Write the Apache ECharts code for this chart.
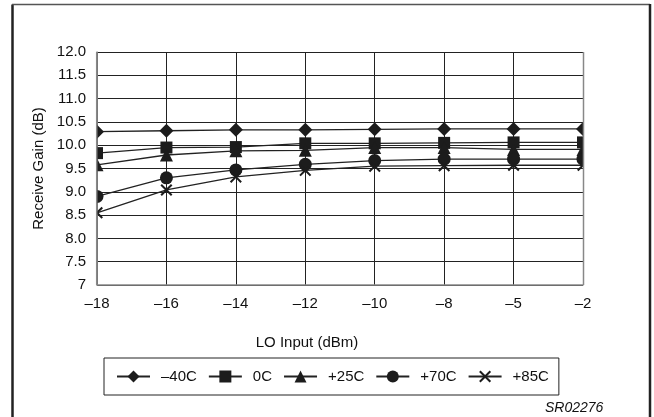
<!DOCTYPE html>
<html>
<head>
<meta charset="utf-8">
<script src="https://cdn.jsdelivr.net/npm/echarts@6/dist/echarts.min.js"></script>
<style>
  html, body { margin: 0; padding: 0; background: #fff; }
</style>
</head>
<body>
<div id="chart" style="width: 654px; height: 417px"></div>
<script>
// LO input levels (dBm), shown as evenly spaced categories
var loInput = ["\u201318", "\u201316", "\u201314", "\u201312", "\u201310", "\u20138", "\u20135", "\u20132"];

// receive gain (dB) per temperature
var gainM40 = [10.29, 10.31, 10.33, 10.33, 10.34, 10.35, 10.35, 10.35];
var gain0 = [9.83, 9.95, 9.96, 10.04, 10.04, 10.05, 10.06, 10.06];
var gain25 = [9.58, 9.79, 9.88, 9.89, 9.95, 9.95, 9.91, 9.91];
var gain70 = [8.9, 9.3, 9.47, 9.59, 9.67, 9.7, 9.7, 9.7];
var gain85 = [8.55, 9.04, 9.32, 9.46, 9.55, 9.56, 9.57, 9.57];

var seriesNames = ["\u201340C", "0C", "+25C", "+70C", "+85C"];

var xMark = "path://M0,1.2 L1.2,0 L5,3.8 L8.8,0 L10,1.2 L6.2,5 L10,8.8 L8.8,10 L5,6.2 L1.2,10 L0,8.8 L3.8,5 Z";

var chartDom = document.getElementById("chart");
var mychart = echarts.init(chartDom);

function makeSeries(name, data, symbol, size) {
  return {
    name: name,
    type: "line",
    data: data,
    symbol: symbol,
    symbolSize: size,
    color: "#1c1c1c",
    lineStyle: { color: "#222", width: 1.3 },
    itemStyle: { color: "#1c1c1c" },
    z: 3
  };
}

var font = "Liberation Sans, Arial, sans-serif";

var option = {
  animation: false,
  backgroundColor: "#fff",
  textStyle: { fontFamily: font },
  grid: { left: 97, right: 71, top: 52, bottom: 132 },
  xAxis: {
    type: "category",
    data: loInput,
    boundaryGap: false,
    axisLine: { lineStyle: { color: "#888", width: 1.5 } },
    axisTick: { show: false },
    axisLabel: { color: "#111", fontSize: 15, margin: 11, fontFamily: font },
    splitLine: { show: true, lineStyle: { color: "#222", width: 1 } },
    name: "LO Input (dBm)",
    nameLocation: "middle",
    nameGap: 50,
    nameTextStyle: { color: "#111", fontSize: 15, fontFamily: font, padding: [0, 66, 0, 0] }
  },
  yAxis: {
    type: "value",
    min: 7,
    max: 12,
    interval: 0.5,
    axisLine: { show: true, lineStyle: { color: "#888", width: 1.5 } },
    axisTick: { show: false },
    axisLabel: {
      color: "#111",
      fontSize: 15,
      margin: 11,
      fontFamily: font,
      formatter: function (v) {
        return v === 7 ? "7" : v.toFixed(1);
      }
    },
    splitLine: { show: true, lineStyle: { color: "#222", width: 1 } },
    name: "Receive Gain (dB)",
    nameLocation: "middle",
    nameGap: 50,
    nameTextStyle: { color: "#111", fontSize: 15, fontFamily: font }
  },
  legend: {
    data: seriesNames,
    left: 104,
    top: 358,
    width: 456,
    padding: [11, 10, 11, 12],
    itemWidth: 33,
    itemHeight: 15,
    itemGap: 11,
    borderColor: "#222",
    borderWidth: 1,
    textStyle: { color: "#111", fontSize: 15, fontFamily: font, padding: [0, 0, 0, 6] }
  },
  graphic: [
    // masks so end markers are cut at the plot edges
    { type: "rect", shape: { x: 88, y: 45, width: 8.2, height: 245 }, style: { fill: "#fff" }, z: 10 },
    { type: "rect", shape: { x: 584, y: 45, width: 12, height: 245 }, style: { fill: "#fff" }, z: 10 },
    { type: "line", shape: { x1: 583.5, y1: 52, x2: 583.5, y2: 285 }, style: { stroke: "#888", lineWidth: 1.5 }, z: 11 },
    { type: "line", shape: { x1: 96.7, y1: 52, x2: 96.7, y2: 285 }, style: { stroke: "#888", lineWidth: 1.5 }, z: 11 },
    // outer frame
    { type: "line", shape: { x1: 12.5, y1: 4.5, x2: 12.5, y2: 417 }, style: { stroke: "#222", lineWidth: 2.5 }, z: 11 },
    { type: "line", shape: { x1: 12, y1: 4.5, x2: 650, y2: 4.5 }, style: { stroke: "#555", lineWidth: 1.5 }, z: 11 },
    { type: "line", shape: { x1: 650, y1: 4, x2: 650, y2: 417 }, style: { stroke: "#222", lineWidth: 2.5 }, z: 11 },
    {
      type: "text",
      left: 545,
      top: 401,
      style: { text: "SR02276", fontSize: 14, fontStyle: "italic", fontFamily: font, fill: "#111" },
      z: 11
    }
  ],
  series: [
    makeSeries(seriesNames[0], gainM40, "diamond", 14),
    makeSeries(seriesNames[1], gain0, "rect", 12),
    makeSeries(seriesNames[2], gain25, "triangle", 13),
    makeSeries(seriesNames[3], gain70, "circle", 13),
    makeSeries(seriesNames[4], gain85, xMark, 12)
  ]
};

option && mychart.setOption(option);
</script>
</body>
</html>
